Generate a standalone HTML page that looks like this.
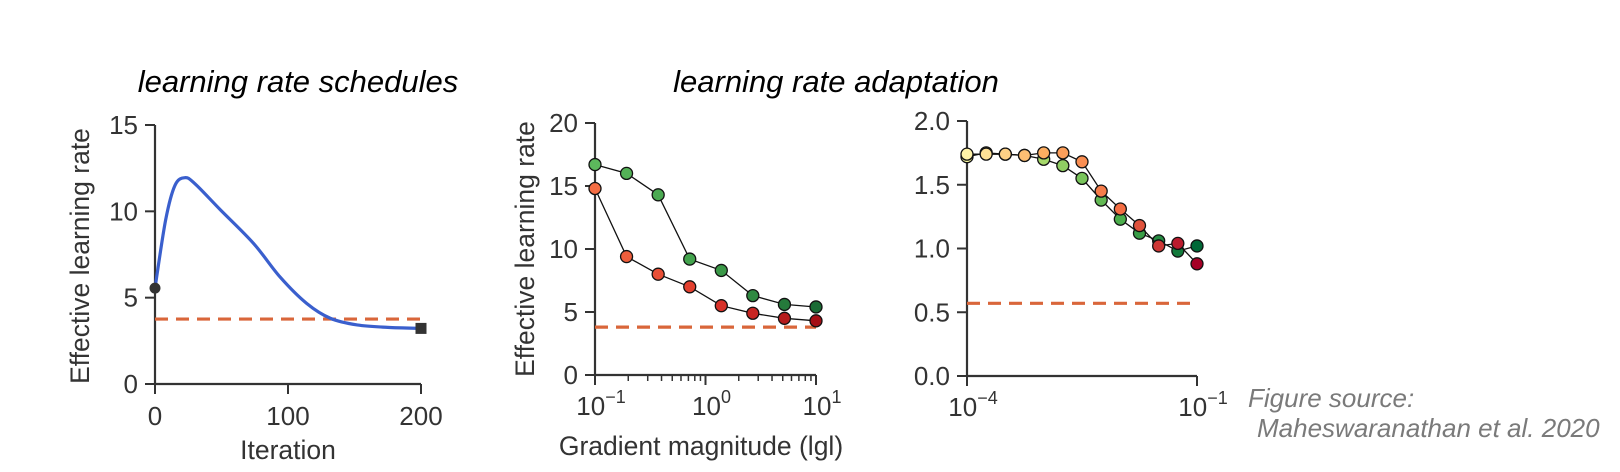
<!DOCTYPE html>
<html><head><meta charset="utf-8"><style>
html,body{margin:0;padding:0;background:#fff;}
svg{display:block;font-family:"Liberation Sans",Arial,sans-serif;}
</style></head><body>
<svg id="fig" width="1620" height="472" viewBox="0 0 1620 472">
<text x="298" y="92" font-size="31" font-style="italic" text-anchor="middle" fill="#000">learning rate schedules</text>
<text x="836" y="92" font-size="31" font-style="italic" text-anchor="middle" fill="#000">learning rate adaptation</text>
<text x="1248" y="407" font-size="26" font-style="italic" fill="#7a7a7a">Figure source:</text>
<text x="1257" y="437" font-size="26" font-style="italic" fill="#7a7a7a">Maheswaranathan et al. 2020</text>
<g id="c1"></g>
<g id="c2"></g>
<g id="c3"></g>
</svg>
<script>
// chart 1 data
const c1Iter = [0, 8, 15, 22.5, 30, 49, 74, 94, 114, 132, 152, 175, 200];
const c1Rate = [5.55, 9.5, 11.5, 11.95, 11.6, 10.1, 8.15, 6.2, 4.67, 3.8, 3.42, 3.28, 3.22];
const c1Base = 3.76;
const c1YTicks = [0, 5, 10, 15];
const c1XTicks = [0, 100, 200];
// chart 2 data
const c2Grad = [0.1, 0.193, 0.373, 0.72, 1.39, 2.68, 5.18, 10];
const c2Green = [16.7, 16.0, 14.3, 9.2, 8.3, 6.3, 5.6, 5.4];
const c2Red = [14.8, 9.4, 8.0, 7.0, 5.5, 4.9, 4.5, 4.3];
const c2Base = 3.8;
const c2YTicks = [0, 5, 10, 15, 20];
const c2XExp = [-1, 0, 1];
// chart 3 data
const c3Exp = [-4, -3.75, -3.5, -3.25, -3, -2.75, -2.5, -2.25, -2, -1.75, -1.5, -1.25, -1];
const c3Warm = [1.74, 1.74, 1.74, 1.73, 1.75, 1.75, 1.68, 1.45, 1.31, 1.18, 1.02, 1.04, 0.88];
const c3Green = [1.72, 1.75, 1.74, 1.73, 1.70, 1.65, 1.55, 1.38, 1.23, 1.12, 1.06, 0.98, 1.02];
const c3Base = 0.57;
const c3YTicks = ["0.0", "0.5", "1.0", "1.5", "2.0"];
const c3XExp = [-4, -1];

const NS = "http://www.w3.org/2000/svg";
const FS = 26;
function mk(parent, tag, attrs) {
  const e = document.createElementNS(NS, tag);
  for (const k in attrs) e.setAttribute(k, attrs[k]);
  parent.appendChild(e);
  return e;
}
function lerpColor(a, b, t) {
  const pa = [1,3,5].map(i => parseInt(a.substr(i,2),16));
  const pb = [1,3,5].map(i => parseInt(b.substr(i,2),16));
  return "rgb(" + pa.map((v,i) => Math.round(v + (pb[i]-v)*t)).join(",") + ")";
}
function ramp(stops, t) {
  const n = stops.length - 1;
  const i = Math.min(n - 1, Math.floor(t * n));
  return lerpColor(stops[i], stops[i+1], t * n - i);
}
const AX = "#333";
function axes(g, x0, x1, y0, y1) {
  const yl = mk(g, "line", {x1:x0, y1:y1, x2:x0, y2:y0, stroke:AX, "stroke-width":2.2});
  
  
  const xl = mk(g, "line", {x1:x0, y1:y0, x2:x1, y2:y0, stroke:AX, "stroke-width":2.2});
  
  
}
function yTick(g, x0, y, label) {
  mk(g, "line", {x1:x0-10, y1:y, x2:x0, y2:y, stroke:AX, "stroke-width":2});
  const t = mk(g, "text", {x:x0-17, y:y+9, "font-size":FS, "text-anchor":"end", fill:"#333"});
  t.textContent = label;
  
  
}
function xTick(g, x, y0, label) {
  mk(g, "line", {x1:x, y1:y0, x2:x, y2:y0+10, stroke:AX, "stroke-width":2});
  const t = mk(g, "text", {x:x, y:y0+41, "font-size":FS, "text-anchor":"middle", fill:"#333"});
  t.textContent = label;
  
  
}
function xPowTick(g, x, y0, exp) {
  mk(g, "line", {x1:x, y1:y0, x2:x, y2:y0+10, stroke:AX, "stroke-width":2});
  const t = mk(g, "text", {x:x+6, y:y0+40, "font-size":FS, "text-anchor":"middle", fill:"#333"});
  t.textContent = "10";
  const s = mk(t, "tspan", {dy:-12, "font-size":18});
  s.textContent = exp < 0 ? "\u2212" + (-exp) : String(exp);
  
  
}
function yTitle(g, x, y, txt) {
  const t = mk(g, "text", {x:x, y:y, "font-size":26.5, "text-anchor":"middle", fill:"#333", transform:"rotate(-90 "+x+" "+y+")"});
  t.textContent = txt;
  
  
}
function xTitle(g, x, y, txt) {
  const t = mk(g, "text", {x:x, y:y, "font-size":26.5, "text-anchor":"middle", fill:"#333"});
  t.textContent = txt;
  
  
}
function dashed(g, x0, x1, y) {
  const l = mk(g, "line", {x1:x0, y1:y, x2:x1, y2:y, stroke:"#d9663a", "stroke-width":3.2, "stroke-dasharray":"13,8"});
  
  
}
function series(g, xs, ys, sx, sy, stops, name) {
  const pts = xs.map((x,i) => sx(x).toFixed(1)+","+sy(ys[i]).toFixed(1)).join(" ");
  const pl = mk(g, "polyline", {points:pts, fill:"none", stroke:"#111", "stroke-width":1.3});
  
  
  xs.forEach((x,i) => {
    const c = mk(g, "circle", {cx:sx(x), cy:sy(ys[i]), r:6, fill:ramp(stops, i/(xs.length-1)), stroke:"#111", "stroke-width":1.3});
    
    
  });
}

// Chart 1
(function(){
  const g = document.getElementById("c1");
  const X0=155, X1=421, Y0=384, Y15=125;
  const sx = v => X0 + (X1-X0)*v/200;
  const sy = v => Y0 - (Y0-Y15)*v/15;
  axes(g, X0, X1, Y0, Y15);
  c1YTicks.forEach(v => yTick(g, X0, sy(v), String(v)));
  c1XTicks.forEach(v => xTick(g, sx(v), Y0, String(v)));
  yTitle(g, 89, 256, "Effective learning rate");
  xTitle(g, sx(100), 459, "Iteration");
  dashed(g, X0, X1, sy(c1Base));
  const n = c1Iter.length;
  const P = c1Iter.map((x,i)=>[sx(x), sy(c1Rate[i])]);
  let d = "M"+P[0][0]+","+P[0][1];
  for (let i=0;i<n-1;i++){
    const p0=P[Math.max(0,i-1)], p1=P[i], p2=P[i+1], p3=P[Math.min(n-1,i+2)];
    const c1=[p1[0]+(p2[0]-p0[0])/6, p1[1]+(p2[1]-p0[1])/6];
    const c2=[p2[0]-(p3[0]-p1[0])/6, p2[1]-(p3[1]-p1[1])/6];
    d += " C"+c1.join(",")+" "+c2.join(",")+" "+p2.join(",");
  }
  const path = mk(g, "path", {d:d, fill:"none", stroke:"#3a5fcd", "stroke-width":3.2});
  
  
  const st = mk(g, "circle", {cx:P[0][0], cy:P[0][1], r:5.5, fill:"#333"});
  
  
  const en = mk(g, "rect", {x:P[n-1][0]-5.5, y:P[n-1][1]-5.5, width:11, height:11, fill:"#333"});
  
  
})();

// Chart 2
(function(){
  const g = document.getElementById("c2");
  const X0=595, X1=816, Y0=375, Y20=123;
  const sx = v => X0 + (X1-X0)*(Math.log10(v)+1)/2;
  const sy = v => Y0 - (Y0-Y20)*v/20;
  axes(g, X0, X1, Y0, Y20);
  c2YTicks.forEach(v => yTick(g, X0, sy(v), String(v)));
  c2XExp.forEach(e => xPowTick(g, sx(Math.pow(10,e)), Y0, e));
  [0.1,1].forEach(b => { for (let k=2;k<=9;k++) mk(g,"line",{x1:sx(b*k),y1:Y0,x2:sx(b*k),y2:Y0+6,stroke:AX,"stroke-width":1.5}); });
  yTitle(g, 534, 249, "Effective learning rate");
  xTitle(g, 701, 455, "Gradient magnitude (lgl)");
  dashed(g, X0, X1, sy(c2Base));
  series(g, c2Grad, c2Green, sx, sy, ["#5cb85c","#3f9f4a","#1a6b35"], "green-series");
  series(g, c2Grad, c2Red, sx, sy, ["#f46d43","#e0382c","#a50f15"], "red-series");
})();

// Chart 3
(function(){
  const g = document.getElementById("c3");
  const X0=967, X1=1197, Y0=376, Y2=121;
  const sx = e => X0 + (X1-X0)*(e+4)/3;
  const sy = v => Y0 - (Y0-Y2)*v/2;
  axes(g, X0, X1, Y0, Y2);
  c3YTicks.forEach(v => yTick(g, X0, sy(parseFloat(v)), v));
  c3XExp.forEach(e => xPowTick(g, sx(e), Y0, e));
  dashed(g, X0, X1, sy(c3Base));
  series(g, c3Exp, c3Green, sx, sy, ["#f7f7a0","#a6d96a","#4cae4c","#006837"], "green-series");
  series(g, c3Exp, c3Warm, sx, sy, ["#fff2a8","#fdae61","#f46d43","#a50026"], "warm-series");
})();
</script>
</body></html>
